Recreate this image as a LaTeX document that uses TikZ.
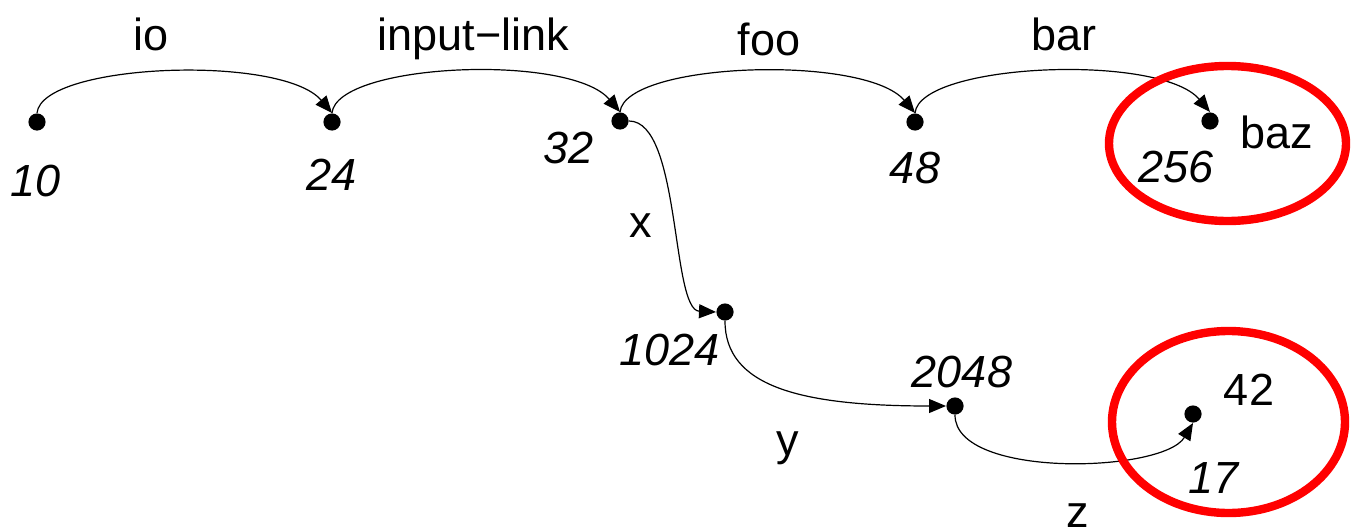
\documentclass[tikz,border=0pt]{standalone}
\usepackage{fontspec}
\setmainfont{Liberation Sans}
\usetikzlibrary{arrows.meta,shapes.geometric}
\begin{document}
\begin{tikzpicture}[x=0.5pt,y=-0.5pt,
  dot/.style={circle,fill=black,inner sep=0pt,minimum size=8.6pt},
  link/.style={line width=0.6pt,-{Triangle[length=8.5pt,width=7pt]}},
  txt/.style={inner sep=0pt,anchor=base,font=\fontsize{22.5pt}{27pt}\selectfont},
  num/.style={inner sep=0pt,anchor=base,font=\fontsize{22.5pt}{27pt}\selectfont\itshape},
  ring/.style={ellipse,draw=red,line width=4.2pt,inner sep=0pt}]
\useasboundingbox (0,0) rectangle (1355,530);

% vertices
\node[dot] (n10)   at (37,122)  {};
\node[dot] (n24)   at (332,122) {};
\node[dot] (n32)   at (620,121) {};
\node[dot] (n48)   at (915,122) {};
\node[dot] (n256)  at (1210,121) {};
\node[dot] (n1024) at (725,312) {};
\node[dot] (n2048) at (955,406) {};
\node[dot] (n17)   at (1193,414) {};

% vertex labels
\node[num] (l10)   at (35.5,196) {10};
\node[num] (l24)   at (331.5,190) {24};
\node[num] (l32)   at (569,163) {32};
\node[num] (l48)   at (915,183) {48};
\node[num] (l256)  at (1176,182) {256};
\node[txt] (lbaz)  at (1277,148) {baz};
\node[num] (l1024) at (669.5,365) {1024};
\node[num] (l2048) at (962,387) {2048};
\node[txt] (l42)   at (1249,405) {42};
\node[num] (l17)   at (1213.5,493) {17};

% edges along the top row
\draw[link] (n10.north)  .. controls +(5,-50) and +(-50,-59) .. (n24.north);
\draw[link] (n24.north)  .. controls +(5,-50) and +(-50,-59) .. (n32.north);
\draw[link] (n32.north)  .. controls +(5,-50) and +(-50,-59) .. (n48.north);
\draw[link] (n48.north)  .. controls +(5,-50) and +(-50,-59) .. (n256.north);

% edges down the branch
\draw[link] (n32.east)    .. controls +(52,0) and +(-45,-2) .. (n1024.west);
\draw[link] (n1024.south) .. controls +(0,65) and +(-147,0) .. (n2048.west);
\draw[link] (n2048.south) .. controls +(0,64) and +(-30,50) .. (n17.south);

% edge labels
\node[txt] (eio)  at (151.5,50) {io};
\node[txt] (einp) at (473.5,50) {input−link};
\node[txt] (efoo) at (769,55) {foo};
\node[txt] (ebar) at (1064,50) {bar};
\node[txt] (ex)   at (641,237) {x};
\node[txt] (ey)   at (787.5,455) {y};
\node[txt] (ez)   at (1078,527) {z};

% highlighted groups
\node[ring,minimum width=118.5pt,minimum height=77.5pt] (hiA) at (1227.5,143.5) {};
\node[ring,minimum width=116.5pt,minimum height=91pt]   (hiB) at (1228.5,422) {};
\end{tikzpicture}
\end{document}
